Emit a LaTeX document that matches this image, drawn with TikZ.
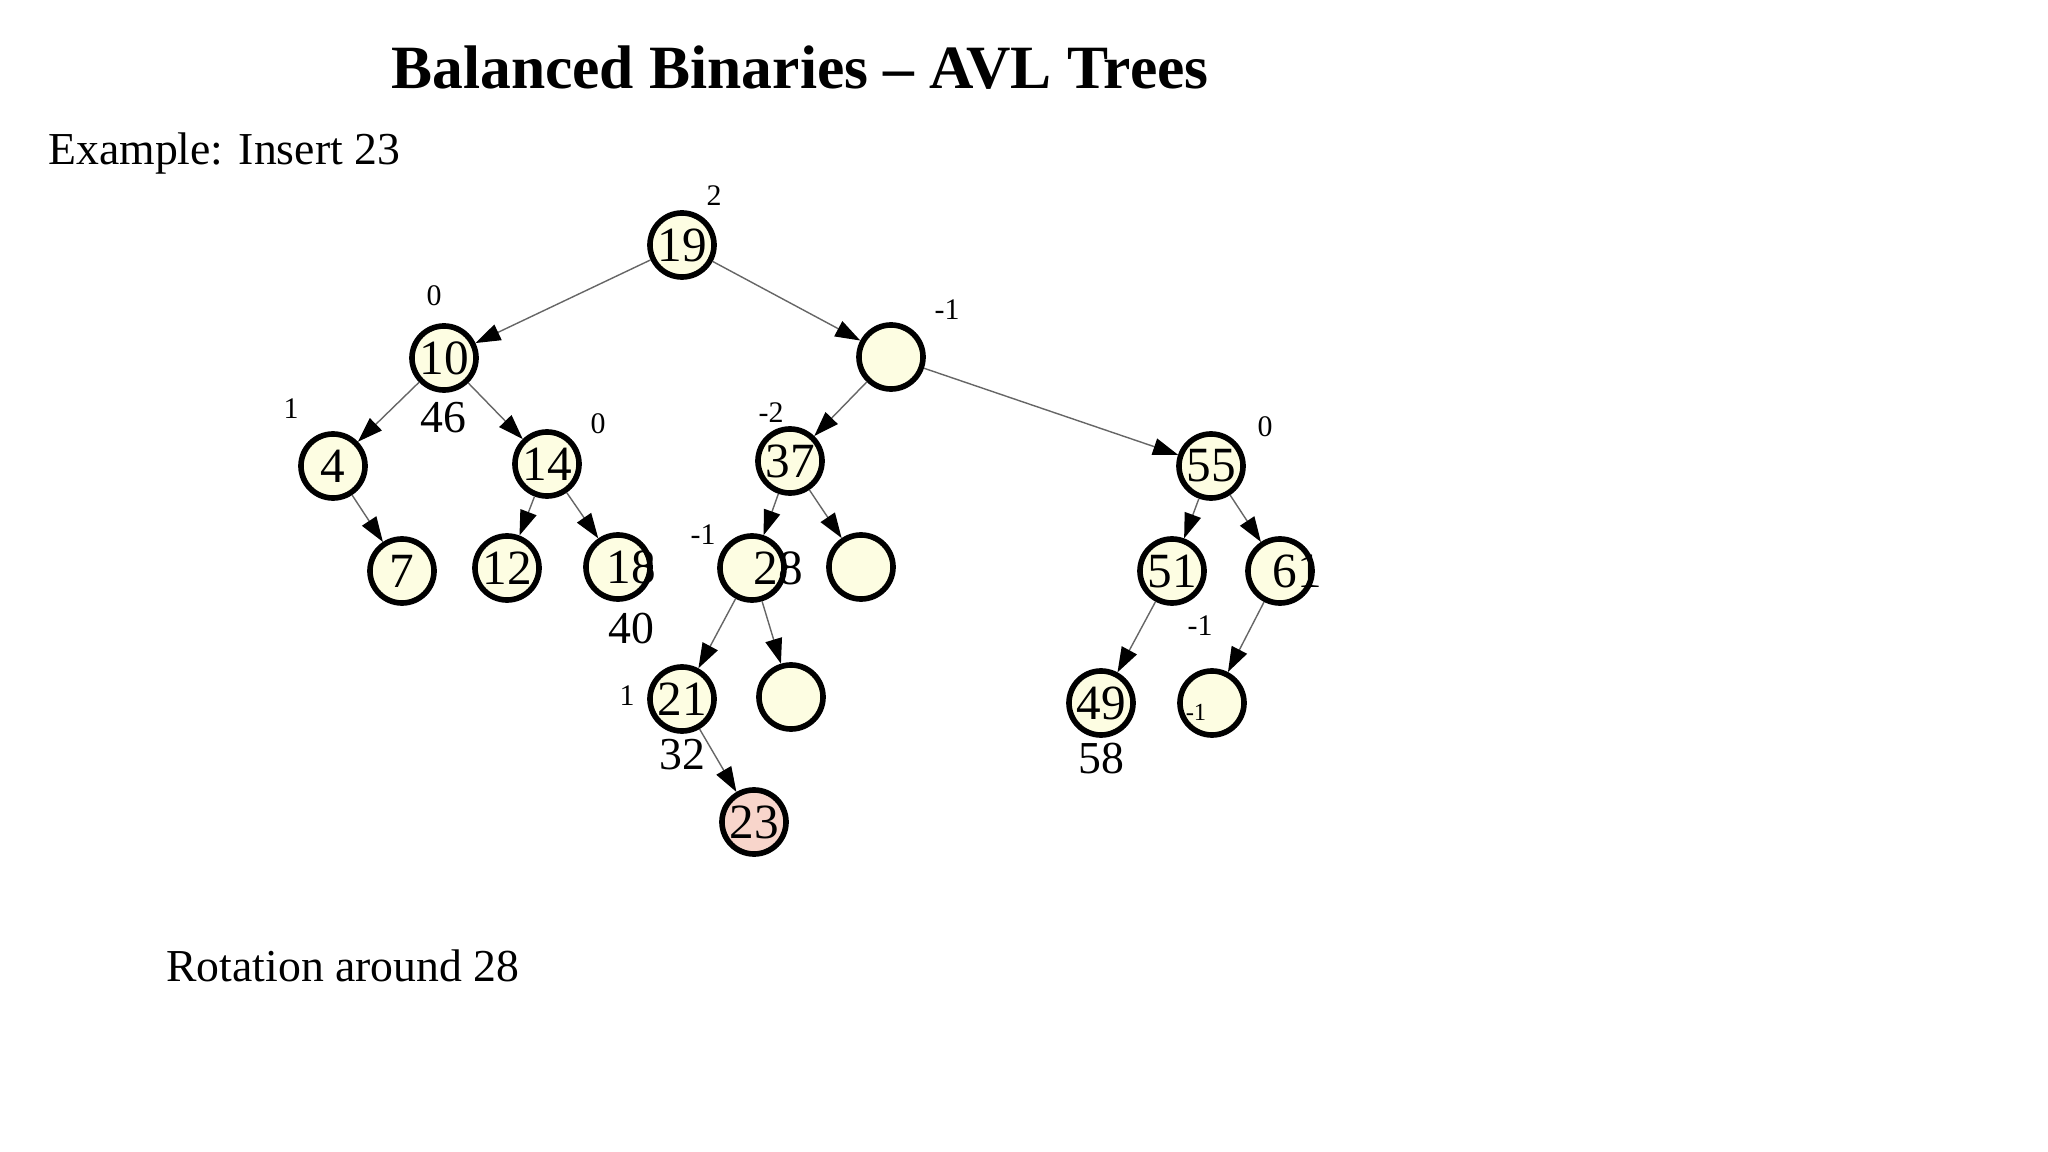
\documentclass[tikz,border=0pt]{standalone}
\usepackage{fontspec}
\setmainfont{Liberation Serif}
\usetikzlibrary{arrows.meta}
\definecolor{avlfill}{HTML}{FDFDE2}
\definecolor{avlnew}{HTML}{F8D5CB}

\begin{document}
\begin{tikzpicture}[x=0.01cm,y=-0.01cm,
  avl/.style={circle,draw=black,line width=1.6pt,fill=avlfill,minimum size=0.64cm,inner sep=0pt,font=\fontsize{14}{14}\selectfont},
  newkey/.style={avl,fill=avlnew},
  bal/.style={font=\fontsize{8.5}{9}\selectfont},
  extra/.style={font=\fontsize{13}{13}\selectfont},
  edge/.style={draw=black!60,line width=0.4pt,-{Triangle[length=0.25cm,width=0.17cm,color=black]}}]
\useasboundingbox (0,0) rectangle (2048,1152);
\node[font=\bfseries\fontsize{17.5}{18}\selectfont] (title) at (800,68) {Balanced Binaries – AVL Trees};
\node[anchor=west,font=\fontsize{13}{14}\selectfont] (example) at (36,154) {Example: Insert 23};
\node[anchor=west,font=\fontsize{13}{14}\selectfont] (rotation) at (154,966) {Rotation around 28};
% tree
\node[avl] (n19) at (682,245) {19};
\node[avl] (n10) at (444,358) {10};
\node[avl] (e1) at (891,357) {};
\node[avl] (n4) at (333,466) {4};
\node[avl] (n14) at (547,464) {14};
\node[avl] (n37) at (790,461) {37};
\node[avl] (n55) at (1211,466) {55};
\node[avl] (n7) at (402,571) {7};
\node[avl] (n12) at (507,568) {12};
\node[avl,label={[font=\fontsize{14}{14}\selectfont,xshift=0.13cm]center:18}] (n18) at (618,567) {};
\node[avl,label={[font=\fontsize{14}{14}\selectfont,xshift=0.26cm]center:28}] (n28) at (752,568) {};
\node[avl] (e2) at (861,567) {};
\node[avl] (n51) at (1172,571) {51};
\node[avl,label={[font=\fontsize{14}{14}\selectfont,xshift=0.17cm]center:61}] (n61) at (1280,571) {};
\node[avl] (n21) at (682,699) {21};
\node[avl] (e3) at (791,697) {};
\node[avl] (n49) at (1101,703) {49};
\node[avl] (e4) at (1212,703) {};
\node[newkey] (n23) at (754,822) {23};
\foreach \a/\b in {n19/n10,n19/e1,n10/n4,n10/n14,n4/n7,n14/n12,n14/n18,e1/n37,e1/n55,
  n37/n28,n37/e2,n28/n21,n28/e3,n21/n23,n55/n51,n55/n61,n51/n49,n61/e4}
  \draw[edge] (\a) -- (\b);
% balance numbers
\node[bal] (b19) at (714,196) {2};
\node[bal] (b10) at (434,296) {0};
\node[bal] (be1) at (947,310) {-1};
\node[bal] (b4) at (291,409) {1};
\node[bal] (b14) at (598,424) {0};
\node[bal] (b37) at (771,413) {-2};
\node[bal] (b55) at (1265,427) {0};
\node[bal] (b28) at (703,535) {-1};
\node[bal] (b61) at (1200,626) {-1};
\node[bal] (b21) at (627,696) {1};
\node[bal,font=\fontsize{7}{7}\selectfont] (be4) at (1196,712) {-1};
\node[extra] (x46) at (443,418) {46};
\node[extra] (x40) at (631,629) {40};
\node[extra] (x32) at (682,755) {32};
\node[extra] (x58) at (1101,759) {58};
\end{tikzpicture}
\end{document}
